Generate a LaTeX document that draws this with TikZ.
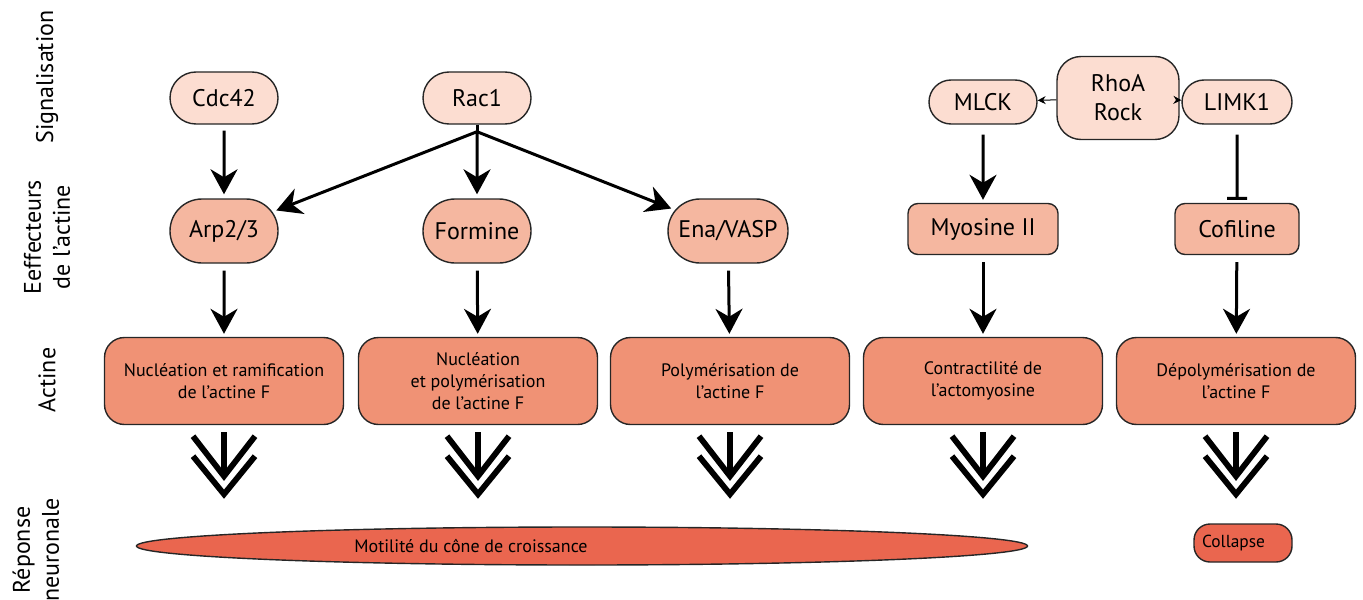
\documentclass[tikz,border=0pt]{standalone}
\usepackage{fontspec}
\setmainfont{PT Sans}
\usetikzlibrary{arrows.meta,calc,shapes.misc,shapes.geometric}
\definecolor{sigc}{HTML}{FCDDD1}
\definecolor{effc}{HTML}{F5B7A0}
\definecolor{actc}{HTML}{F09275}
\definecolor{respc}{HTML}{EA664F}
\begin{document}
\begin{tikzpicture}[x=0.5pt,y=-0.5pt,
  every node/.style={inner sep=0pt},
  border/.style={draw=black!85,line width=0.7pt},
  sigpill/.style={border,fill=sigc,rounded rectangle,minimum width=54pt,minimum height=26pt,font=\fontsize{12}{14}\selectfont},
  effpill/.style={border,fill=effc,rounded rectangle,minimum width=54pt,minimum height=32pt,font=\fontsize{12}{14}\selectfont},
  effbox/.style={border,fill=effc,rounded corners=5pt,minimum width=75pt,minimum height=25.5pt,font=\fontsize{12}{14}\selectfont},
  actbox/.style={border,fill=actc,rounded corners=10pt,minimum width=119.5pt,minimum height=43.5pt,align=center,font=\fontsize{9}{11}\selectfont},
  rowlabel/.style={rotate=90,align=center,font=\fontsize{12}{14.5}\selectfont},
  arr/.style={line width=1.5pt,-{Stealth[length=12.5pt,width=13.5pt,inset=4pt]}},
  smallarr/.style={line width=0.5pt,-{Stealth[length=4pt,width=4pt]}},
  inhib/.style={line width=1.5pt,-{Bar[width=10pt,line width=1.5pt]}},
  chev/.style={line width=2.9pt,line join=miter,miter limit=10}
]
\useasboundingbox (0,0) rectangle (1363,599);

% row labels
\node[rowlabel] (lsig) at (47,77) {Signalisation};
\node[rowlabel] (leff) at (47,237) {Eeffecteurs\\de l’actine};
\node[rowlabel] (lact) at (47,380) {Actine};
\node[rowlabel] (lrep) at (36,550) {Réponse\\neuronale};

% signalling
\node[sigpill] (cdc) at (224,98) {Cdc42};
\node[sigpill] (rac) at (477,98) {Rac1};
\node[sigpill,minimum height=22pt] (mlck) at (983,102) {MLCK};
\node[sigpill,minimum height=22pt,minimum width=55pt] (limk) at (1237,102) {LIMK1};
\node[border,fill=sigc,rounded corners=12pt,minimum width=61pt,minimum height=41.5pt,align=center,font=\fontsize{12}{14.5}\selectfont] (rho) at (1118,98) {RhoA\\Rock};

% effectors
\node[effpill] (arp) at (224,231) {Arp2/3};
\node[effpill] (form) at (477,231) {Formine};
\node[effpill,minimum width=60pt] (ena) at (728,231) {Ena/VASP};
\node[effbox] (myo) at (983,229) {Myosine II};
\node[effbox,minimum width=62pt] (cof) at (1237,229) {Cofiline};

% actin
\node[actbox] (a1) at (224,381) {Nucléation et ramification\\de l’actine F};
\node[actbox] (a2) at (478,381) {Nucléation\\et polymérisation\\de l’actine F};
\node[actbox] (a3) at (730,381) {Polymérisation de\\l’actine F};
\node[actbox] (a4) at (983,381) {Contractilité de\\l’actomyosine};
\node[actbox] (a5) at (1236,381) {Dépolymérisation de\\l’actine F};

% responses
\node[border,fill=respc,ellipse,minimum width=445.5pt,minimum height=19pt] (mot) at (582,546) {};
\node[font=\fontsize{9}{10.5}\selectfont] (mott) at (471,546) {Motilité du cône de croissance};
\node[border,fill=respc,rounded corners=8pt,minimum height=19pt,text width=41pt,inner xsep=4pt,align=left,font=\fontsize{8.7}{10}\selectfont] (col) at (1243,543) {Collapse};

% arrows
\draw[arr,shorten <=3pt,shorten >=2pt] (cdc) -- (arp);
\coordinate (racb) at ($(rac.south)+(0,7)$);
\draw[line width=1.5pt] (rac.south) -- (racb);
\draw[arr,shorten >=2pt] (racb) -- (arp);
\draw[arr,shorten >=2pt] (racb) -- (form);
\draw[arr,shorten >=2pt] (racb) -- (ena);
\draw[smallarr] (rho) -- (mlck);
\draw[smallarr] (rho) -- (limk);
\draw[arr,shorten <=5pt,shorten >=1.5pt] (mlck) -- (myo);
\draw[inhib,shorten <=5pt,shorten >=1.5pt] (limk) -- (cof);
\foreach \e/\a in {arp/a1,form/a2,ena/a3,myo/a4,cof/a5}{
  \draw[arr,shorten <=3.5pt,shorten >=1.5pt] (\e) -- (\a);
}

% chevrons
\foreach \a in {a1,a2,a3,a4,a5}{
  \coordinate (c) at ($(\a.south)+(0,7)$);
  \draw[line width=2.9pt] (c) -- ++(0,40);
  \draw[chev] ($(c)+(-31,4)$) -- ++(31,40) -- ++(31,-40);
  \draw[chev] ($(c)+(-31,24)$) -- ++(31,38) -- ++(31,-38);
}
\end{tikzpicture}
\end{document}
